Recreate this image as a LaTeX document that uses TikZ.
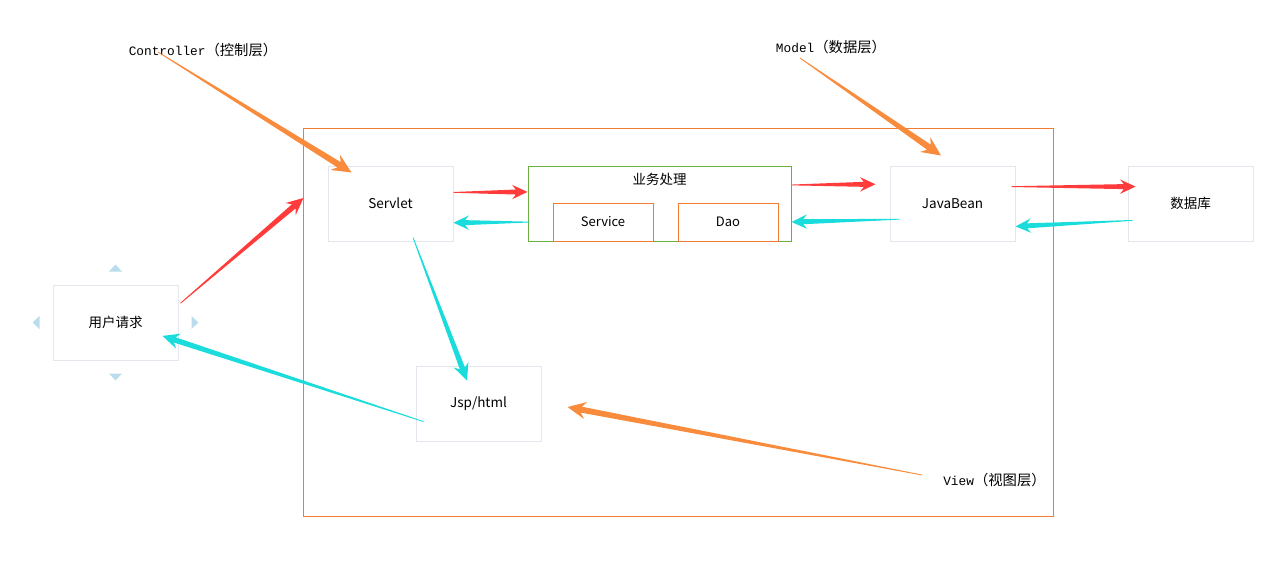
\documentclass[tikz,border=0pt]{standalone}
\usepackage{fontspec}
\setmainfont{Noto Sans CJK SC}
\setmonofont{Liberation Mono}
\newfontfamily\cjk{Noto Sans CJK SC}[Scale=1.12]
\usetikzlibrary{calc}

\definecolor{frameorange}{HTML}{F07C33}
\definecolor{boxgray}{HTML}{E3E6EC}
\definecolor{bizgreen}{HTML}{6BAF3C}
\definecolor{arroworange}{HTML}{F88B3C}
\definecolor{arrowred}{HTML}{FF3B3B}
\definecolor{arrowcyan}{HTML}{1ADCDC}
\definecolor{handleblue}{HTML}{BADDED}

% tapered arrow: [head scale], colour, tail, tip
\newcommand\flow[4][1]{%
  \path (#3) coordinate (ft) (#4) coordinate (fh);
  \fill[#2] ($(ft)!0.4pt!90:(fh)$) -- ($(fh)!#1*12pt!-12:(ft)$) -- ($(fh)!#1*17pt!-25:(ft)$) -- (fh)
    -- ($(fh)!#1*17pt!25:(ft)$) -- ($(fh)!#1*12pt!12:(ft)$) -- ($(ft)!0.4pt!-90:(fh)$) -- cycle;
}

\begin{document}
\begin{tikzpicture}[x=1pt, y=-1pt,
  box/.style={draw=boxgray, line width=1pt, minimum width=125pt, minimum height=75pt,
    inner sep=0pt, font=\fontsize{13.5}{15}\selectfont, text=black},
  part/.style={draw=frameorange, line width=1pt, minimum width=100pt, minimum height=38pt,
    inner sep=0pt, font=\fontsize{13}{14}\selectfont, text=black},
  layer/.style={inner sep=0pt, font=\fontsize{12.8}{14}\ttfamily, text=black},
  handle/.style={fill=handleblue}]
\useasboundingbox (0,0) rectangle (1286,576);

% outer frame
\draw[frameorange, line width=1pt] (303,128) rectangle (1053,516);

% layer labels
\node[layer] (ctrl) at (203,50) {Controller{\cjk （控制层）}};
\node[layer] (model) at (831,47) {Model{\cjk （数据层）}};
\node[layer] (view) at (994.5,480) {View{\cjk （视图层）}};

% boxes
\node[box] (user) at (115.5,322.5) {用户请求};
\node[box] (servlet) at (390.5,203.5) {Servlet};
\node[box, draw=bizgreen, minimum width=263pt] (biz) at (659.5,203.5) {};
\node[font=\fontsize{13.5}{15}\selectfont, text=black] (biztitle) at (659.5,179) {业务处理};
\node[part] (service) at (603,222) {Service};
\node[part] (dao) at (728,222) {Dao};
\node[box] (bean) at (952.5,203.5) {JavaBean};
\node[box] (db) at (1190.5,203.5) {数据库};
\node[box] (jsp) at (478.5,403.5) {Jsp/html};

% handles round the request box
\foreach \anc/\ang in {north/90, south/-90, east/0, west/180}
  \fill[handle] ([shift={(\ang:20pt)}]user.\anc)
    -- ([shift={(\ang:13pt)}, shift={(\ang+90:6.5pt)}]user.\anc)
    -- ([shift={(\ang:13pt)}, shift={(\ang-90:6.5pt)}]user.\anc) -- cycle;

% layer pointers
\flow[1.25]{arroworange}{[shift={(-45pt,-2pt)}]ctrl.center}{[shift={(24pt,-7pt)}]servlet.north west}
\flow[1.25]{arroworange}{[shift={(-31pt,-11pt)}]model.center}{[shift={(-11.5pt,10pt)}]bean.north}
\flow[1.2]{arroworange}{[shift={(-72.5pt,5pt)}]view.center}{[shift={(26pt,-3.5pt)}]jsp.east}

% requests
\flow[1.1]{arrowred}{[xshift=2pt]user.17}{[xshift=-24pt]servlet.175}
\flow{arrowred}{servlet.10}{biz.175}
\flow{arrowred}{biz.8}{[xshift=-14pt]bean.163}
\flow{arrowred}{[xshift=-4pt]bean.15}{[xshift=8pt]db.165}

% responses
\flow{arrowcyan}{[xshift=5pt]db.195}{bean.-20}
\flow{arrowcyan}{[xshift=10pt]bean.194}{biz.-8}
\flow{arrowcyan}{[xshift=2pt]biz.188}{servlet.-17}
\flow[1.1]{arrowcyan}{[shift={(22.5pt,4pt)}]servlet.south}{[shift={(-11.5pt,-15pt)}]jsp.north}
\flow[1.1]{arrowcyan}{[xshift=8pt]jsp.196}{[xshift=-16pt]user.-12}

\end{tikzpicture}
\end{document}
